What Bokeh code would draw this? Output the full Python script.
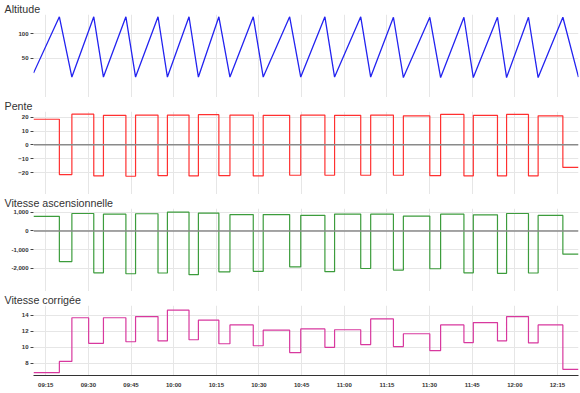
import pandas as pd
from bokeh.plotting import figure
from bokeh.layouts import column
from bokeh.models import (Range1d, FixedTicker, DatetimeTickFormatter, Span,
                          NumeralTickFormatter)
from bokeh.embed import file_html
from bokeh.resources import INLINE

DAY = "2024-06-01 "

# sample times (vertices of the altitude profile / step changes)
times = ["09:10:42", "09:19:48", "09:24:12", "09:31:54", "09:35:18", "09:43:12",
         "09:46:36", "09:54:30", "09:57:48", "10:05:24", "10:08:42", "10:15:54",
         "10:19:48", "10:28:00", "10:31:30", "10:40:48", "10:44:42", "10:53:12",
         "10:56:36", "11:05:48", "11:09:18", "11:17:18", "11:20:48", "11:30:06",
         "11:33:54", "11:42:06", "11:45:24", "11:53:54", "11:57:06", "12:04:48",
         "12:08:12", "12:16:54", "12:22:24"]
vc_times = ["09:10:42", "09:19:48", "09:24:12", "09:30:06", "09:35:18", "09:43:12",
            "09:46:36", "09:54:30", "09:57:48", "10:05:24", "10:08:42", "10:15:54",
            "10:19:48", "10:28:00", "10:31:30", "10:40:48", "10:44:42", "10:53:12",
            "10:56:36", "11:05:48", "11:09:18", "11:17:18", "11:20:48", "11:30:06",
            "11:33:54", "11:42:06", "11:45:24", "11:53:54", "11:57:06", "12:04:48",
            "12:08:12", "12:16:54", "12:22:24"]

altitude = [20, 134, 12, 134, 12, 134, 12, 134, 12, 134, 12, 134, 12, 134, 12, 134, 12,
            134, 12, 134, 12, 133, 11, 133, 11, 133, 11, 133, 11, 133, 11, 133, 12]

pente = [18.5, -21.5, 22.2, -22.5, 21.3, -22.7, 21.5, -22.2, 21.5, -22.5, 21.8, -22.2,
         21.5, -22.5, 21.3, -22.0, 21.5, -22.0, 21.3, -22.0, 21.5, -22.0, 21.0, -22.2,
         22.0, -22.5, 21.3, -22.5, 22.0, -22.5, 21.0, -16.3]

vitesse_asc = [780, -1630, 930, -2230, 895, -2280, 915, -2240, 1000, -2330, 950, -2180,
               870, -2150, 870, -1910, 830, -2170, 900, -2000, 895, -2085, 790, -2015,
               895, -2230, 860, -2260, 930, -2240, 825, -1240]

vitesse_corr = [6.84, 8.24, 13.7, 10.5, 13.7, 10.7, 13.85, 10.8, 14.65, 10.95, 13.4, 10.45,
                12.8, 10.2, 12.15, 9.35, 12.3, 10.0, 12.2, 10.35, 13.55, 10.1, 11.7, 9.6,
                12.8, 10.6, 13.1, 10.8, 13.85, 10.55, 12.8, 7.25]

tick_labels = ["09:15", "09:30", "09:45", "10:00", "10:15", "10:30", "10:45",
               "11:00", "11:15", "11:30", "11:45", "12:00", "12:15"]

titles = ["Altitude", "Pente", "Vitesse ascensionnelle", "Vitesse corrigée"]


def to_ms(s):
    return pd.Timestamp(DAY + s).value // 10**6


t_ms = [to_ms(s) for s in times]
vc_ms = [to_ms(s) for s in vc_times]
tick_ms = [to_ms(s + ":00") for s in tick_labels]

FONT = "Liberation Sans"
x_range = Range1d(start=t_ms[0], end=t_ms[-1])


def make_fig(height, yr, yticks, title, bottom=0, show_x=False, fmt=None):
    p = figure(width=580, height=height, x_axis_type="datetime", x_range=x_range,
               y_range=Range1d(*yr), output_backend="svg", toolbar_location=None,
               min_border_left=33, min_border_right=2, min_border_top=0,
               min_border_bottom=bottom, title=title)
    p.title.align = "left"
    p.title.offset = -29
    p.title.standoff = 0
    p.title.text_font = FONT
    p.title.text_font_size = "10.7px"
    p.title.text_font_style = "normal"
    p.title.text_color = "#333333"
    p.outline_line_color = None
    p.background_fill_color = "white"
    p.border_fill_color = "white"
    p.xaxis.ticker = FixedTicker(ticks=tick_ms)
    p.xgrid.ticker = FixedTicker(ticks=tick_ms)
    p.xgrid.grid_line_color = "#e6e6e6"
    p.ygrid.grid_line_color = "#e6e6e6"
    p.yaxis.ticker = FixedTicker(ticks=yticks)
    p.ygrid.ticker = FixedTicker(ticks=yticks)
    if fmt is not None:
        p.yaxis.formatter = NumeralTickFormatter(format=fmt)
    p.yaxis.axis_line_color = None
    p.yaxis.major_tick_in = 0
    p.yaxis.major_tick_out = 3
    p.yaxis.minor_tick_line_color = None
    p.yaxis.major_tick_line_color = "#444444"
    p.yaxis.major_label_standoff = 2
    p.yaxis.major_label_text_font = FONT
    p.yaxis.major_label_text_font_size = "6px"
    p.yaxis.major_label_text_color = "#333333"
    p.yaxis.major_label_text_font_style = "bold"
    if show_x:
        p.xaxis.formatter = DatetimeTickFormatter(minutes="%H:%M", hourmin="%H:%M",
                                                  hours="%H:%M", context=None)
        p.xaxis.axis_line_color = "#333333"
        p.xaxis.major_tick_in = 0
        p.xaxis.major_tick_out = 0
        p.xaxis.minor_tick_line_color = None
        p.xaxis.major_label_standoff = 6
        p.xaxis.major_label_text_font = FONT
        p.xaxis.major_label_text_font_size = "6px"
        p.xaxis.major_label_text_color = "#333333"
        p.xaxis.major_label_text_font_style = "bold"
    else:
        p.xaxis.visible = False
    return p


def steps(v):
    return list(v) + [v[-1]]


p1 = make_fig(97, (-29.4, 138.6), [50, 100], titles[0])
p1.line(t_ms, altitude, line_color="#2323f0", line_width=1.3)

p2 = make_fig(97, (-35.9, 24.1), [-20, -10, 0, 10, 20], titles[1])
p2.add_layout(Span(location=0, dimension="width", line_color="#8a8a8a", line_width=1.5))
p2.step(t_ms, steps(pente), mode="after", line_color="#ff3030", line_width=1.2)

p3 = make_fig(97, (-3226, 1195), [-2000, -1000, 0, 1000], titles[2], fmt="0,0")
p3.add_layout(Span(location=0, dimension="width", line_color="#8a8a8a", line_width=1.5))
p3.step(t_ms, steps(vitesse_asc), mode="after", line_color="#3c9c3c", line_width=1.2)

p4 = make_fig(102, (6.48, 15.23), [8, 10, 12, 14], titles[3], bottom=18, show_x=True)
p4.step(vc_ms, steps(vitesse_corr), mode="after", line_color="#d8389e", line_width=1.2)

layout = column(p1, p2, p3, p4, spacing=0)

with open("out.html", "w") as f:
    f.write(file_html(layout, INLINE))
